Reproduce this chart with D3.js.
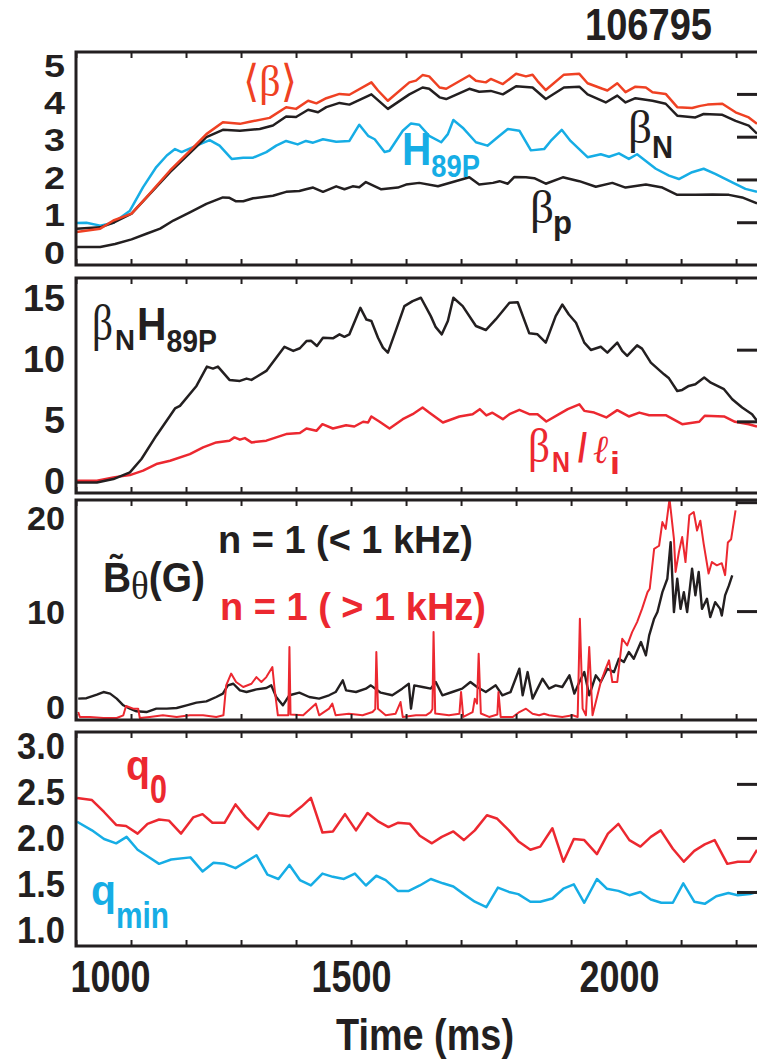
<!DOCTYPE html>
<html>
<head>
<meta charset="utf-8">
<script src="https://cdn.jsdelivr.net/npm/d3@7"></script>
<style>
  body { margin: 0; background: #fff; }
  svg { display: block; }
</style>
</head>
<body>
<div id="chart"></div>
<script>
// ---- panel 1: beta values (time ms, value) ----
const betaAvg = [[1001,0.77],[1044,0.85],[1068,1.04],[1101,1.2],[1128,1.58],[1171,2.21],[1207,2.67],[1237,3.06],[1267,3.34],[1298,3.3],[1316,3.35],[1352,3.44],[1382,3.69],[1400,3.65],[1422,3.84],[1437,3.78],[1455,3.9],[1479,4.0],[1497,3.98],[1537,4.27],[1549,4.08],[1567,3.84],[1606,4.27],[1618,4.31],[1630,4.44],[1642,4.41],[1661,4.15],[1673,4.12],[1715,4.43],[1727,4.31],[1745,4.27],[1754,4.35],[1776,4.23],[1800,4.47],[1818,4.41],[1830,4.45],[1839,4.3],[1854,4.09],[1887,4.45],[1915,4.47],[1930,4.25],[1957,4.12],[1966,4.08],[1984,4.25],[1999,4.04],[2017,4.17],[2036,4.15],[2048,4.04],[2072,4.0],[2093,3.69],[2120,3.67],[2135,3.72],[2148,3.75],[2175,3.77],[2199,3.57],[2223,3.45],[2238,3.3]];
const betaN = [[1001,0.85],[1044,0.88],[1070,1.0],[1101,1.2],[1171,2.17],[1237,2.99],[1267,3.16],[1298,3.14],[1334,3.18],[1358,3.26],[1382,3.47],[1400,3.46],[1422,3.63],[1440,3.57],[1455,3.69],[1479,3.79],[1497,3.75],[1537,3.99],[1567,3.65],[1606,3.99],[1630,4.15],[1642,4.12],[1661,3.92],[1673,3.88],[1715,4.12],[1733,4.05],[1754,4.07],[1776,3.99],[1800,4.18],[1830,4.15],[1854,3.88],[1887,4.15],[1915,4.17],[1930,3.99],[1963,3.8],[1984,3.96],[1999,3.8],[2017,3.9],[2048,3.84],[2072,3.77],[2093,3.49],[2126,3.45],[2141,3.53],[2175,3.51],[2199,3.37],[2223,3.26],[2238,3.07]];
const h89p = [[1001,0.98],[1019,0.99],[1044,0.92],[1068,0.99],[1098,1.27],[1122,1.82],[1146,2.29],[1165,2.56],[1180,2.71],[1192,2.64],[1219,2.79],[1243,2.92],[1261,2.79],[1283,2.48],[1304,2.51],[1322,2.51],[1346,2.64],[1364,2.79],[1382,2.9],[1403,2.82],[1418,2.9],[1431,2.86],[1449,2.94],[1473,2.88],[1497,2.9],[1515,3.28],[1531,3.02],[1543,2.94],[1561,2.64],[1570,2.67],[1594,3.14],[1609,3.31],[1624,3.28],[1642,3.02],[1664,2.87],[1676,3.06],[1686,3.39],[1703,3.21],[1727,2.87],[1748,2.79],[1766,2.98],[1785,3.18],[1806,3.14],[1827,2.68],[1851,2.71],[1863,2.9],[1883,3.16],[1899,2.9],[1930,2.52],[1954,2.59],[1969,2.53],[1987,2.61],[2005,2.48],[2020,2.59],[2054,2.25],[2078,2.09],[2096,2.01],[2120,2.17],[2141,2.25],[2162,2.13],[2193,1.93],[2217,1.78],[2238,1.71]];
const betaP = [[1001,0.42],[1044,0.42],[1071,0.49],[1101,0.6],[1128,0.73],[1153,0.85],[1177,1.04],[1207,1.23],[1237,1.43],[1267,1.58],[1279,1.57],[1291,1.49],[1304,1.49],[1322,1.56],[1358,1.62],[1382,1.71],[1406,1.73],[1418,1.77],[1431,1.81],[1449,1.71],[1473,1.84],[1488,1.77],[1503,1.84],[1515,1.82],[1527,1.94],[1555,1.77],[1585,1.81],[1600,1.88],[1624,1.92],[1658,1.84],[1685,1.94],[1715,2.05],[1733,1.88],[1758,1.92],[1770,1.96],[1785,1.9],[1797,2.06],[1818,2.05],[1833,2.03],[1854,1.9],[1885,2.05],[1915,1.96],[1945,1.83],[1975,1.92],[1999,1.81],[2036,1.88],[2066,1.81],[2093,1.64],[2126,1.64],[2157,1.65],[2187,1.64],[2211,1.58],[2238,1.44]];

// ---- panel 2 ----
const betaNH89 = [[1001,0.74],[1038,0.73],[1068,0.97],[1098,1.44],[1119,2.37],[1146,4.0],[1171,5.39],[1180,5.9],[1189,6.08],[1219,7.47],[1238,8.82],[1249,8.68],[1258,8.82],[1279,7.89],[1298,7.82],[1310,7.98],[1319,7.89],[1346,8.52],[1364,9.44],[1379,10.2],[1395,9.91],[1407,10.1],[1419,10.6],[1427,10.63],[1438,10.26],[1449,10.83],[1467,10.79],[1479,11.07],[1488,10.9],[1497,11.07],[1517,12.92],[1528,12.1],[1537,12.0],[1549,10.83],[1558,10.14],[1567,9.79],[1582,11.4],[1597,13.04],[1612,13.39],[1627,13.62],[1645,12.34],[1654,11.57],[1665,11.07],[1676,12.0],[1686,13.62],[1703,13.04],[1727,11.65],[1745,11.37],[1763,12.11],[1788,13.27],[1803,13.31],[1824,11.14],[1839,11.07],[1854,10.49],[1872,12.34],[1884,13.15],[1896,12.45],[1909,11.88],[1924,10.49],[1936,9.98],[1954,10.2],[1966,9.79],[1984,10.49],[1993,9.91],[2002,9.56],[2020,10.3],[2029,10.07],[2045,9.1],[2069,8.28],[2078,8.0],[2093,7.12],[2102,7.19],[2114,7.47],[2126,7.59],[2142,8.05],[2154,7.7],[2178,7.24],[2193,6.54],[2211,5.96],[2229,5.5],[2238,5.04]];
const betaNli = [[1001,0.86],[1038,0.86],[1068,1.09],[1098,1.25],[1122,1.56],[1146,2.02],[1171,2.25],[1207,2.71],[1231,3.18],[1255,3.53],[1279,3.65],[1288,3.88],[1298,3.72],[1307,3.83],[1319,3.53],[1346,3.65],[1364,3.88],[1382,4.11],[1407,4.18],[1419,4.5],[1437,4.34],[1448,4.8],[1467,4.5],[1491,4.73],[1506,4.64],[1522,4.97],[1531,4.92],[1537,5.34],[1552,4.97],[1570,4.5],[1594,5.15],[1612,5.5],[1630,5.96],[1642,5.61],[1667,4.92],[1697,5.34],[1721,5.5],[1734,5.85],[1746,5.41],[1757,5.6],[1776,5.15],[1788,5.5],[1806,5.8],[1824,5.5],[1839,5.5],[1855,4.99],[1875,5.43],[1894,5.85],[1915,6.19],[1924,5.73],[1942,5.61],[1964,5.27],[1984,5.78],[2005,5.34],[2024,5.61],[2042,5.43],[2072,5.43],[2102,4.8],[2133,4.97],[2143,5.39],[2178,5.34],[2198,4.97],[2223,4.8],[2238,4.64]];

// ---- panel 3: n = 1 amplitude (G) ----
const n1Low = [[1004,1.96],[1019,2.0],[1038,2.33],[1050,2.57],[1062,2.42],[1074,1.96],[1086,1.35],[1098,1.04],[1110,0.8],[1128,0.73],[1146,1.04],[1165,1.04],[1183,1.1],[1201,1.35],[1219,1.59],[1237,1.71],[1255,2.11],[1267,2.42],[1276,3.18],[1286,3.33],[1298,2.72],[1310,2.57],[1328,2.81],[1346,2.94],[1355,3.18],[1364,2.11],[1376,1.35],[1388,2.27],[1406,2.51],[1424,2.11],[1442,1.96],[1460,2.27],[1472,2.57],[1485,3.64],[1491,2.72],[1509,2.57],[1527,2.88],[1536,3.18],[1554,2.51],[1575,2.27],[1593,2.88],[1605,3.33],[1609,1.04],[1615,3.18],[1630,3.03],[1645,2.88],[1654,3.49],[1666,2.27],[1684,2.57],[1702,2.88],[1717,3.49],[1729,3.03],[1745,2.57],[1763,3.18],[1775,2.27],[1790,2.57],[1806,4.71],[1812,2.27],[1821,4.4],[1830,1.96],[1842,3.18],[1848,3.79],[1860,2.88],[1872,3.18],[1884,3.03],[1897,4.1],[1906,2.42],[1915,3.49],[1924,4.4],[1933,2.27],[1945,4.1],[1954,3.49],[1966,4.71],[1978,4.4],[1987,5.63],[1996,5.32],[2005,6.24],[2014,5.63],[2027,7.16],[2036,5.93],[2042,7.77],[2051,9.3],[2057,9.91],[2066,11.74],[2075,12.97],[2081,16.33],[2087,9.91],[2093,12.97],[2099,10.2],[2105,11.74],[2111,9.91],[2120,13.89],[2126,11.44],[2132,13.6],[2138,10.2],[2147,11.13],[2153,9.45],[2162,10.82],[2171,10.2],[2174,9.6],[2180,11.44],[2187,12.36],[2193,13.28]];
const n1High = [[1004,0.73],[1007,0.28],[1025,0.28],[1050,0.18],[1074,0.18],[1086,0.43],[1091,1.28],[1104,1.04],[1113,1.04],[1116,0.18],[1134,0.28],[1158,0.43],[1183,0.28],[1207,0.43],[1231,0.43],[1255,0.28],[1268,0.43],[1273,3.18],[1282,4.26],[1291,3.49],[1304,3.03],[1319,3.33],[1328,3.94],[1337,3.49],[1346,3.94],[1357,4.86],[1361,2.88],[1367,0.43],[1386,0.43],[1388,6.7],[1390,0.5],[1413,0.43],[1436,1.5],[1442,0.43],[1460,1.04],[1466,1.5],[1472,0.43],[1496,0.58],[1521,0.43],[1539,0.73],[1544,1.0],[1546,6.24],[1549,1.04],[1563,0.43],[1581,0.58],[1590,1.65],[1594,0.28],[1618,0.43],[1636,0.43],[1645,0.73],[1648,1.0],[1650,8.07],[1653,0.6],[1678,0.43],[1697,0.58],[1700,2.57],[1704,0.28],[1721,0.73],[1725,1.96],[1729,1.5],[1732,6.09],[1736,0.6],[1751,0.28],[1766,0.5],[1768,2.57],[1772,0.28],[1794,0.28],[1806,0.73],[1818,1.04],[1830,0.58],[1842,0.43],[1851,0.58],[1860,0.43],[1884,0.28],[1903,0.43],[1912,0.28],[1916,9.3],[1921,1.04],[1927,0.43],[1933,6.7],[1939,0.43],[1948,2.27],[1954,3.49],[1963,4.71],[1969,5.48],[1975,3.49],[1984,3.49],[1993,7.46],[2002,6.85],[2011,8.07],[2020,8.99],[2029,10.2],[2039,11.74],[2043,12.05],[2051,15.72],[2060,16.0],[2066,18.17],[2072,17.55],[2079,20.3],[2087,16.63],[2090,13.6],[2096,15.4],[2102,16.8],[2108,14.5],[2115,18.8],[2123,19.1],[2129,17.4],[2135,18.3],[2141,16.2],[2150,13.45],[2156,14.5],[2165,14.2],[2174,14.4],[2180,13.3],[2185,16.3],[2191,16.6],[2199,19.24]];

// ---- panel 4: safety factor ----
const q0 = [[1002,2.37],[1029,2.35],[1051,2.24],[1073,2.12],[1091,2.11],[1112,2.04],[1130,2.13],[1151,2.17],[1169,2.16],[1191,2.04],[1213,2.19],[1230,2.22],[1248,2.14],[1270,2.14],[1290,2.31],[1309,2.19],[1331,2.08],[1351,2.23],[1370,2.21],[1388,2.2],[1410,2.29],[1427,2.37],[1448,2.05],[1467,2.06],[1489,2.22],[1509,2.07],[1530,2.23],[1550,2.15],[1568,2.1],[1585,2.14],[1607,2.13],[1625,2.02],[1647,1.95],[1665,2.01],[1686,2.06],[1705,1.98],[1725,2.07],[1747,2.21],[1765,2.18],[1787,2.07],[1804,1.97],[1826,1.89],[1844,1.92],[1866,2.09],[1886,1.78],[1905,1.99],[1924,1.98],[1947,1.85],[1967,2.04],[1986,2.13],[2006,1.98],[2026,1.92],[2045,2.01],[2063,2.07],[2085,1.9],[2105,1.78],[2124,1.88],[2143,1.94],[2161,1.98],[2184,1.76],[2203,1.78],[2225,1.78],[2238,1.89]];
const qMin = [[1002,2.15],[1029,2.07],[1051,1.99],[1073,1.95],[1092,2.01],[1112,1.89],[1130,1.83],[1151,1.76],[1173,1.8],[1208,1.82],[1230,1.69],[1250,1.77],[1270,1.76],[1290,1.72],[1309,1.78],[1328,1.84],[1348,1.66],[1368,1.62],[1388,1.75],[1407,1.61],[1427,1.56],[1448,1.67],[1467,1.64],[1487,1.62],[1507,1.67],[1527,1.56],[1546,1.65],[1563,1.61],[1585,1.51],[1605,1.51],[1625,1.56],[1645,1.62],[1667,1.58],[1686,1.55],[1705,1.48],[1725,1.41],[1746,1.36],[1767,1.54],[1787,1.5],[1804,1.48],[1826,1.41],[1844,1.41],[1866,1.44],[1886,1.53],[1905,1.57],[1924,1.4],[1947,1.62],[1965,1.53],[1986,1.51],[2006,1.47],[2026,1.5],[2045,1.43],[2064,1.4],[2085,1.4],[2104,1.58],[2124,1.41],[2143,1.39],[2164,1.46],[2186,1.49],[2203,1.47],[2225,1.48],[2238,1.5]];

// ---- axis values ----
const timeDomain = [1000, 2238];
const timeTicks = d3.range(1000, 2300, 100);
const timeLabels = [1000, 1500, 2000];
const yLabels1 = [0, 1, 2, 3, 4, 5];
const yLabels2 = [0, 5, 10, 15];
const yLabels3 = [0, 10, 20];
const yLabels4 = [1.0, 1.5, 2.0, 2.5, 3.0];

const BLACK = "#231f20", RED = "#ec2830", ORANGE = "#ef4123", CYAN = "#16ade5";
// condensed bold look: Liberation Sans squeezed with textLength
const SANS = "'Liberation Sans', Arial, sans-serif";
const SERIF = "'Liberation Serif', 'DejaVu Serif', serif";

const width = 757, height = 1062;
const svg = d3.select("#chart").append("svg")
    .attr("width", width)
    .attr("height", height)
    .style("background", "#fff");

const x = d3.scaleLinear().domain(timeDomain).range([76, 757]);

// width a condensed label takes: digits ~ dw px, a period ~8 px
const squeeze = (s, dw) => s.replace(/\./g, "").length * dw + (s.split(".").length - 1) * 8;

const panels = [
  { top: 52, bottom: 265, domain: [0, 4.98], rightTicks: [1, 2, 3, 4],
    labels: yLabels1, labelRange: [252, 65], fmt: d3.format("d"), size: 31, dw: 21,
    series: [{data: betaP, color: BLACK}, {data: h89p, color: CYAN},
             {data: betaN, color: BLACK}, {data: betaAvg, color: ORANGE}] },
  { top: 278, bottom: 493, domain: [0, 15], rightTicks: [5, 10],
    labels: yLabels2, labelRange: [480, 297], fmt: d3.format("d"), size: 37, dw: 21,
    series: [{data: betaNli, color: RED}, {data: betaNH89, color: BLACK}] },
  { top: 500, bottom: 720, domain: [0, 20.2], rightTicks: [10, 20],
    labels: yLabels3, labelRange: [706, 517], fmt: d3.format("d"), size: 34, dw: 19,
    series: [{data: n1Low, color: BLACK, w: 2.4}, {data: n1High, color: RED, w: 2}] },
  { top: 732, bottom: 946, domain: [1, 2.98], rightTicks: [1.5, 2, 2.5],
    labels: yLabels4, labelRange: [930, 746], fmt: d3.format(".1f"), size: 36, dw: 20,
    series: [{data: q0, color: RED}, {data: qMin, color: CYAN}] }
];

panels.forEach((p, i) => {
  const y = d3.scaleLinear().domain(p.domain).range([p.bottom, p.top]);
  const g = svg.append("g").attr("class", "panel");

  g.append("clipPath").attr("id", "clip" + i)
    .append("rect")
    .attr("x", x.range()[0]).attr("y", p.top)
    .attr("width", x.range()[1] - x.range()[0]).attr("height", p.bottom - p.top);

  // data lines
  const line = d3.line().x(d => x(d[0])).y(d => y(d[1]));
  g.append("g").attr("clip-path", `url(#clip${i})`)
    .selectAll("path")
    .data(p.series)
    .join("path")
    .attr("fill", "none")
    .attr("stroke", d => d.color)
    .attr("stroke-width", d => d.w || 2.5)
    .attr("stroke-linejoin", "round")
    .attr("d", d => line(d.data));

  // minor ticks on top and bottom edges
  g.append("g").attr("transform", `translate(0,${p.top})`)
    .call(d3.axisTop(x).tickValues(timeTicks).tickSize(-6).tickFormat(""))
    .call(a => a.select(".domain").remove())
    .selectAll("line").attr("stroke", BLACK).attr("stroke-width", 2);
  g.append("g").attr("transform", `translate(0,${p.bottom})`)
    .call(d3.axisBottom(x).tickValues(timeTicks).tickSize(-6).tickFormat(""))
    .call(a => a.select(".domain").remove())
    .selectAll("line").attr("stroke", BLACK).attr("stroke-width", 2);

  // right-hand value ticks
  g.append("g").attr("transform", `translate(${width},0)`)
    .call(d3.axisRight(y).tickValues(p.rightTicks).tickSize(-20).tickFormat(""))
    .call(a => a.select(".domain").remove())
    .selectAll("line").attr("stroke", BLACK).attr("stroke-width", 3);

  // frame: top, left, bottom
  g.append("path")
    .attr("fill", "none").attr("stroke", BLACK).attr("stroke-width", 3)
    .attr("d", `M${width},${p.top}H${x.range()[0]}V${p.bottom}H${width}`);

  // left tick labels
  const ly = d3.scaleLinear().domain(d3.extent(p.labels)).range(p.labelRange);
  g.append("g").attr("transform", "translate(65,0)")
    .call(d3.axisLeft(ly).tickValues(p.labels).tickSize(0).tickPadding(0).tickFormat(p.fmt))
    .call(a => a.select(".domain").remove())
    .selectAll("text")
    .attr("font-family", SANS).attr("font-weight", "bold")
    .attr("font-size", p.size).attr("fill", BLACK)
    .attr("dy", "0.36em")
    .attr("textLength", d => squeeze(p.fmt(d), p.dw))
    .attr("lengthAdjust", "spacingAndGlyphs");
});

// time axis labels
svg.append("g").attr("transform", `translate(0,${panels[3].bottom})`)
  .call(d3.axisBottom(x).tickValues(timeLabels).tickSize(0).tickPadding(0).tickFormat(d3.format("d")))
  .call(a => a.select(".domain").remove())
  .selectAll("text")
  .attr("font-family", SANS).attr("font-weight", "bold")
  .attr("font-size", 45).attr("fill", BLACK)
  .attr("dy", 0).attr("y", 46)
  .attr("textLength", 80).attr("lengthAdjust", "spacingAndGlyphs")
  .attr("dx", d => d === 1000 ? 34 : d === 2000 ? -7 : 0);

// free-standing texts
function txt(s, px, py, size, w, color, serif, italic) {
  const t = svg.append("text")
    .attr("x", px).attr("y", py)
    .attr("font-family", serif ? SERIF : SANS)
    .attr("font-weight", serif ? "normal" : "bold")
    .attr("font-style", italic ? "italic" : "normal")
    .attr("font-size", size)
    .attr("fill", color)
    .text(s);
  if (w) t.attr("textLength", w).attr("lengthAdjust", "spacingAndGlyphs");
  return t;
}

// a label made of a big part and a lowered subscript, kept as one text
function subLabel(px, py, w, color, main, mainSize, sub, subSize, drop) {
  const t = svg.append("text")
    .attr("x", px).attr("y", py)
    .attr("fill", color)
    .attr("font-family", SANS).attr("font-weight", "bold")
    .attr("textLength", w).attr("lengthAdjust", "spacingAndGlyphs");
  t.append("tspan").attr("font-size", mainSize).text(main);
  t.append("tspan").attr("font-size", subSize).attr("dy", drop).text(sub);
  return t;
}

txt("Time (ms)", 336, 1050, 44, 178, BLACK);
txt("106795", 585, 40, 44, 127, BLACK);

// panel 1 labels
txt("\u27E8\u03B2\u27E9", 243, 96, 44, 54, ORANGE, true);
txt("\u03B2", 628, 143, 46, 24, BLACK, true);
txt("N", 652, 158, 32, 21, BLACK);
subLabel(402, 165, 78, CYAN, "H", 46, "89P", 31, 12);
txt("\u03B2", 530, 223, 46, 24, BLACK, true);
txt("p", 553, 234, 34, 19, BLACK);

// panel 2 labels
txt("\u03B2", 92, 340, 50, 21, BLACK, true);
txt("N", 115, 350, 30, 20, BLACK);
subLabel(137, 340, 80, BLACK, "H", 46, "89P", 32, 12);
txt("\u03B2", 528, 462, 48, 22, RED, true);
txt("N", 552, 472, 30, 18, RED);
txt("/", 578, 462, 40, 9, RED);
txt("\u2113", 593, 463, 40, 15, RED, true, true);
txt("i", 610, 474, 32, 10, RED);

// panel 3 labels: B with tilde, theta, (G) in one text
const bt = svg.append("text")
  .attr("x", 103).attr("y", 592)
  .attr("fill", BLACK)
  .attr("textLength", 102).attr("lengthAdjust", "spacingAndGlyphs");
bt.append("tspan").attr("font-family", SANS).attr("font-weight", "bold")
  .attr("font-size", 42).text("B\u0303");
bt.append("tspan").attr("font-family", SERIF).attr("font-size", 40)
  .attr("dy", 7).text("\u03B8");
bt.append("tspan").attr("font-family", SANS).attr("font-weight", "bold")
  .attr("font-size", 42).attr("dy", -7).text("(G)");

txt("n = 1 (< 1 kHz)", 218, 553, 39, 255, BLACK);
txt("n = 1 ( > 1 kHz)", 220, 620, 39, 266, RED);

// panel 4 labels
txt("q", 126, 780, 42, 24, RED);
txt("0", 150, 803, 40, 17, RED);
txt("q", 91, 905, 42, 25, CYAN);
txt("min", 116, 928, 36, 53, CYAN);
</script>
</body>
</html>
